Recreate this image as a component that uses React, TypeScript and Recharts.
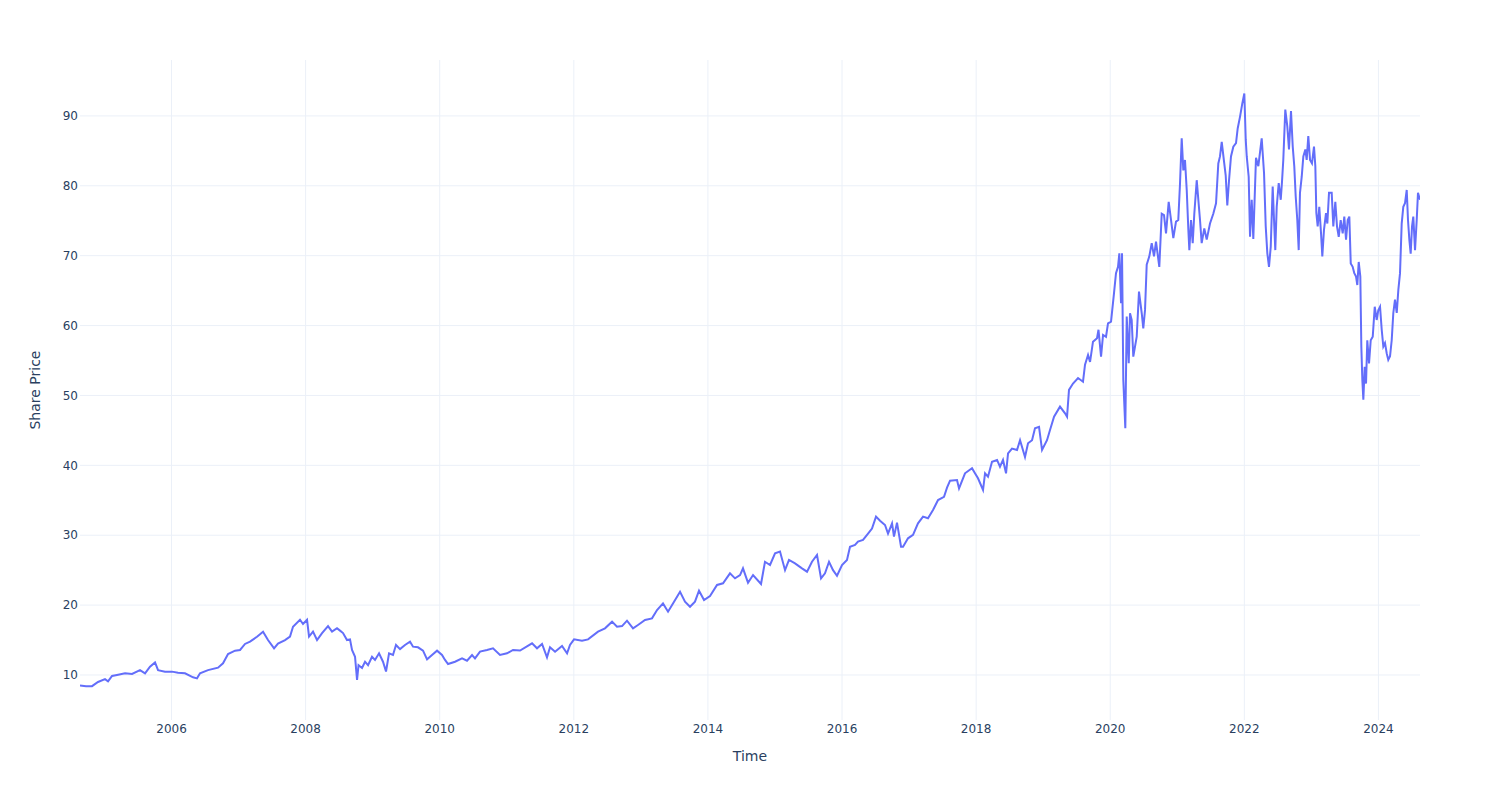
import React from 'react';
import { LineChart, Line, XAxis, YAxis, ReferenceLine } from 'recharts';

// [decimal year, share price]
const prices2004to2007: [number, number][] = [
  [2004.635, 8.5], [2004.725, 8.4], [2004.814, 8.4], [2004.904, 9.0], [2005.008, 9.4], [2005.053, 9.1],
  [2005.113, 9.86], [2005.187, 10.0], [2005.307, 10.24], [2005.411, 10.14], [2005.53, 10.7], [2005.605, 10.24],
  [2005.679, 11.2], [2005.754, 11.8], [2005.799, 10.7], [2005.903, 10.48], [2006.007, 10.48], [2006.097, 10.33],
  [2006.201, 10.24], [2006.321, 9.67], [2006.38, 9.52], [2006.425, 10.24], [2006.544, 10.7], [2006.694, 11.05],
  [2006.768, 11.67], [2006.843, 13.0], [2006.947, 13.48], [2007.022, 13.58], [2007.096, 14.44], [2007.171, 14.77],
  [2007.275, 15.48], [2007.365, 16.2], [2007.439, 15.0], [2007.529, 13.8], [2007.588, 14.5], [2007.693, 15.0],
  [2007.767, 15.5], [2007.812, 16.9], [2007.916, 17.9], [2007.961, 17.3],
];

const prices2008to2011: [number, number][] = [
  [2008.021, 17.9], [2008.051, 15.5], [2008.11, 16.2], [2008.17, 15.0], [2008.245, 16.0], [2008.334, 17.0],
  [2008.394, 16.2], [2008.468, 16.7], [2008.513, 16.35], [2008.558, 16.0], [2008.617, 15.0], [2008.662, 15.1],
  [2008.692, 13.6], [2008.737, 12.6], [2008.767, 9.3], [2008.789, 11.4], [2008.841, 11.0], [2008.886, 11.9],
  [2008.931, 11.4], [2008.99, 12.6], [2009.035, 12.15], [2009.095, 13.1], [2009.154, 11.9], [2009.199, 10.5],
  [2009.244, 13.1], [2009.303, 12.86], [2009.348, 14.3], [2009.408, 13.7], [2009.482, 14.3], [2009.557, 14.77],
  [2009.602, 14.05], [2009.676, 13.96], [2009.751, 13.48], [2009.811, 12.24], [2009.885, 12.86], [2009.96, 13.48],
  [2010.034, 12.86], [2010.079, 12.15], [2010.124, 11.57], [2010.228, 11.9], [2010.333, 12.38], [2010.407, 12.05],
  [2010.482, 12.86], [2010.526, 12.38], [2010.601, 13.34], [2010.705, 13.58], [2010.795, 13.82], [2010.899, 12.86],
  [2011.004, 13.1], [2011.093, 13.58], [2011.198, 13.5],
];

const prices2011to2014: [number, number][] = [
  [2011.377, 14.53], [2011.451, 13.82], [2011.526, 14.44], [2011.6, 12.53], [2011.645, 13.96], [2011.72, 13.34],
  [2011.824, 14.15], [2011.899, 13.1], [2011.943, 14.3], [2012.003, 15.1], [2012.122, 14.91], [2012.212, 15.1],
  [2012.361, 16.2], [2012.465, 16.68], [2012.57, 17.63], [2012.644, 16.9], [2012.719, 17.0], [2012.793, 17.77],
  [2012.883, 16.68], [2012.957, 17.16], [2013.062, 17.87], [2013.166, 18.1], [2013.241, 19.3], [2013.33, 20.24],
  [2013.405, 19.06], [2013.479, 20.24], [2013.584, 21.9], [2013.658, 20.5], [2013.733, 19.77], [2013.807, 20.5],
  [2013.867, 22.06], [2013.942, 20.73], [2014.031, 21.3], [2014.136, 22.88], [2014.225, 23.12], [2014.329, 24.55],
  [2014.404, 23.83], [2014.479, 24.3],
];

const prices2014to2017: [number, number][] = [
  [2014.523, 25.26], [2014.598, 23.2], [2014.673, 24.3], [2014.792, 23.02], [2014.851, 26.2], [2014.926, 25.74],
  [2015.001, 27.4], [2015.075, 27.66], [2015.15, 25.0], [2015.209, 26.46], [2015.299, 25.98], [2015.403, 25.26],
  [2015.478, 24.78], [2015.552, 26.2], [2015.627, 27.17], [2015.687, 23.83], [2015.746, 24.55], [2015.806, 26.2],
  [2015.866, 25.0], [2015.925, 24.2], [2016.0, 25.74], [2016.074, 26.46], [2016.119, 28.36], [2016.194, 28.6],
  [2016.238, 29.08], [2016.313, 29.32], [2016.388, 30.24], [2016.447, 30.96], [2016.507, 32.66], [2016.567, 32.08],
  [2016.641, 31.46], [2016.686, 30.24], [2016.746, 31.7], [2016.775, 29.8], [2016.82, 31.8], [2016.88, 28.36],
  [2016.91, 28.36], [2016.984, 29.56], [2017.059, 30.04], [2017.133, 31.7], [2017.208, 32.66], [2017.282, 32.43],
  [2017.357, 33.6], [2017.432, 35.04], [2017.521, 35.5], [2017.566, 36.8],
];

const prices2017to2019: [number, number][] = [
  [2017.611, 37.8], [2017.715, 37.9], [2017.745, 36.7], [2017.834, 38.86], [2017.939, 39.58], [2017.983, 38.86],
  [2018.028, 38.15], [2018.103, 36.47], [2018.133, 38.86], [2018.177, 38.38], [2018.237, 40.5], [2018.312, 40.77],
  [2018.356, 39.8], [2018.401, 40.77], [2018.446, 38.86], [2018.476, 41.7], [2018.535, 42.4], [2018.61, 42.2],
  [2018.655, 43.6], [2018.729, 41.2], [2018.774, 43.15], [2018.834, 43.6], [2018.878, 45.3], [2018.938, 45.5],
  [2018.983, 42.2], [2019.057, 43.6], [2019.102, 45.06], [2019.162, 46.96], [2019.251, 48.4], [2019.326, 47.44],
  [2019.356, 46.96], [2019.385, 50.8], [2019.445, 51.7], [2019.52, 52.5], [2019.594, 51.97], [2019.624, 54.4],
  [2019.669, 55.8], [2019.699, 54.8], [2019.743, 57.7], [2019.803, 58.2], [2019.825, 59.4], [2019.863, 55.55],
  [2019.893, 58.66], [2019.937, 58.4], [2019.967, 60.3],
];

const prices2020: [number, number][] = [
  [2020.012, 60.56], [2020.056, 64.6], [2020.086, 67.5], [2020.116, 68.4], [2020.136, 70.34], [2020.161, 63.2],
  [2020.176, 70.34], [2020.195, 52.24], [2020.225, 45.3], [2020.246, 61.3], [2020.276, 54.6], [2020.295, 61.76],
  [2020.32, 60.8], [2020.344, 55.55], [2020.395, 58.4], [2020.429, 64.85], [2020.47, 61.76], [2020.493, 59.6],
  [2020.519, 62.24], [2020.544, 68.7], [2020.583, 69.9], [2020.619, 71.8], [2020.653, 69.9], [2020.683, 72.0],
  [2020.732, 68.4], [2020.768, 76.0], [2020.802, 75.8], [2020.832, 73.2], [2020.872, 77.7], [2020.907, 75.1],
  [2020.941, 72.5], [2020.981, 74.87],
];

const prices2021: [number, number][] = [
  [2021.015, 75.1], [2021.041, 80.36], [2021.066, 86.8], [2021.09, 82.2], [2021.115, 83.7], [2021.141, 79.4],
  [2021.165, 73.7], [2021.18, 70.8], [2021.205, 75.1], [2021.23, 71.8], [2021.254, 76.0], [2021.29, 80.8],
  [2021.314, 78.0], [2021.339, 75.1], [2021.364, 71.8], [2021.403, 73.9], [2021.439, 72.3], [2021.488, 74.6],
  [2021.537, 76.0], [2021.578, 77.5], [2021.612, 83.2], [2021.637, 84.2], [2021.663, 86.3], [2021.697, 83.5],
  [2021.722, 81.5], [2021.746, 77.2], [2021.772, 80.8], [2021.801, 84.2], [2021.836, 85.6], [2021.876, 86.1],
  [2021.901, 88.2], [2021.936, 89.9], [2021.97, 91.8],
];

const prices2022: [number, number][] = [
  [2022.0, 93.2], [2022.021, 86.6], [2022.036, 84.2], [2022.065, 81.3], [2022.085, 72.7], [2022.11, 78.0],
  [2022.134, 72.4], [2022.174, 84.0], [2022.209, 82.8], [2022.259, 86.8], [2022.294, 81.8], [2022.319, 74.2],
  [2022.343, 70.34], [2022.368, 68.4], [2022.394, 71.3], [2022.423, 79.9], [2022.443, 75.1], [2022.462, 70.8],
  [2022.483, 77.0], [2022.513, 80.4], [2022.543, 78.0], [2022.562, 80.6], [2022.581, 83.7], [2022.611, 90.9],
  [2022.641, 88.5], [2022.666, 85.2], [2022.696, 90.7], [2022.722, 85.6], [2022.745, 82.8], [2022.766, 78.5],
  [2022.79, 75.1], [2022.811, 70.8], [2022.83, 79.0], [2022.856, 81.3], [2022.88, 84.2], [2022.91, 85.2],
  [2022.93, 83.7], [2022.954, 87.1], [2022.98, 83.7],
];

const prices2023: [number, number][] = [
  [2023.009, 83.2], [2023.039, 85.6], [2023.059, 82.8], [2023.074, 76.1], [2023.094, 74.2], [2023.118, 77.0],
  [2023.144, 73.2], [2023.163, 69.9], [2023.188, 73.7], [2023.218, 76.1], [2023.238, 74.6], [2023.263, 79.0],
  [2023.303, 79.0], [2023.327, 74.2], [2023.357, 77.7], [2023.382, 74.2], [2023.408, 72.7], [2023.437, 75.1],
  [2023.467, 73.2], [2023.491, 75.6], [2023.517, 72.3], [2023.542, 75.1], [2023.566, 75.6], [2023.587, 68.9],
  [2023.616, 68.4], [2023.64, 67.5], [2023.666, 67.0], [2023.685, 65.8], [2023.706, 69.1], [2023.73, 67.0],
  [2023.745, 57.0], [2023.76, 52.2], [2023.775, 49.4], [2023.795, 54.1], [2023.815, 51.7], [2023.834, 57.9],
  [2023.86, 54.6], [2023.885, 57.9], [2023.915, 58.4], [2023.945, 62.7], [2023.974, 60.8],
];

const prices2024: [number, number][] = [
  [2023.998, 62.2], [2024.024, 62.7], [2024.049, 59.4], [2024.073, 57.0], [2024.098, 57.5], [2024.124, 56.0],
  [2024.147, 55.1], [2024.173, 55.6], [2024.198, 57.9], [2024.222, 61.8], [2024.247, 63.7], [2024.273, 61.8],
  [2024.297, 65.1], [2024.322, 67.5], [2024.347, 74.6], [2024.371, 77.0], [2024.396, 77.5], [2024.422, 79.4],
  [2024.441, 75.1], [2024.461, 72.3], [2024.481, 70.3], [2024.501, 74.2], [2024.52, 75.6], [2024.546, 70.8],
  [2024.571, 75.1], [2024.59, 79.0], [2024.62, 78.0],
];

const xTicks = [2006, 2008, 2010, 2012, 2014, 2016, 2018, 2020, 2022, 2024];
const yTicks = [10, 20, 30, 40, 50, 60, 70, 80, 90];

const data = [
  ...prices2004to2007,
  ...prices2008to2011,
  ...prices2011to2014,
  ...prices2014to2017,
  ...prices2017to2019,
  ...prices2020,
  ...prices2021,
  ...prices2022,
  ...prices2023,
  ...prices2024,
].map(([t, price]) => ({ t, price }));

const FONT = "'DejaVu Sans', Verdana, sans-serif";
const TEXT = '#2a3f5f';
const GRID = '#EBF0F8';

const XTitle = (props: any) => {
  const vb = props.viewBox || {};
  return (
    <text x={vb.x + vb.width / 2} y={vb.y + 41} textAnchor="middle" fill={TEXT}
      style={{ fontFamily: FONT, fontSize: 14 }}>Time</text>
  );
};

const YTitle = (props: any) => {
  const vb = props.viewBox || {};
  const cx = 40;
  const cy = vb.y + vb.height / 2;
  return (
    <text x={cx} y={cy} textAnchor="middle" fill={TEXT} transform={`rotate(-90, ${cx}, ${cy})`}
      style={{ fontFamily: FONT, fontSize: 14 }}>Share Price</text>
  );
};

export default function App() {
  return (
    <div style={{ position: 'absolute', left: 0, top: 0, width: 1500, height: 800, background: '#fff' }}>
      <LineChart width={1500} height={800} data={data}
        margin={{ top: 60, right: 80, bottom: 50, left: 30 }}>
        {xTicks.map((t) => (
          <ReferenceLine key={`vx${t}`} x={t} stroke={GRID} strokeWidth={1} ifOverflow="hidden" />
        ))}
        {yTicks.map((v) => (
          <ReferenceLine key={`hy${v}`} y={v} stroke={GRID} strokeWidth={1} ifOverflow="hidden" />
        ))}
        <XAxis dataKey="t" type="number" domain={[2004.635, 2024.62]} ticks={xTicks}
          tickFormatter={(v: number) => String(v)} axisLine={false} tickLine={false}
          tickSize={0} tickMargin={4} height={30} interval={0} allowDataOverflow
          tick={{ fill: TEXT, fontSize: 12, fontFamily: FONT }}
          label={<XTitle />} />
        <YAxis type="number" domain={[3.56, 98.0]} ticks={yTicks} axisLine={false} tickLine={false}
          tickSize={0} tickMargin={2} width={50} interval={0} allowDataOverflow
          tick={{ fill: TEXT, fontSize: 12, fontFamily: FONT }}
          label={<YTitle />} />
        <Line dataKey="price" type="linear" stroke="#636efa" strokeWidth={2} dot={false}
          isAnimationActive={false} activeDot={false} />
      </LineChart>
    </div>
  );
}
